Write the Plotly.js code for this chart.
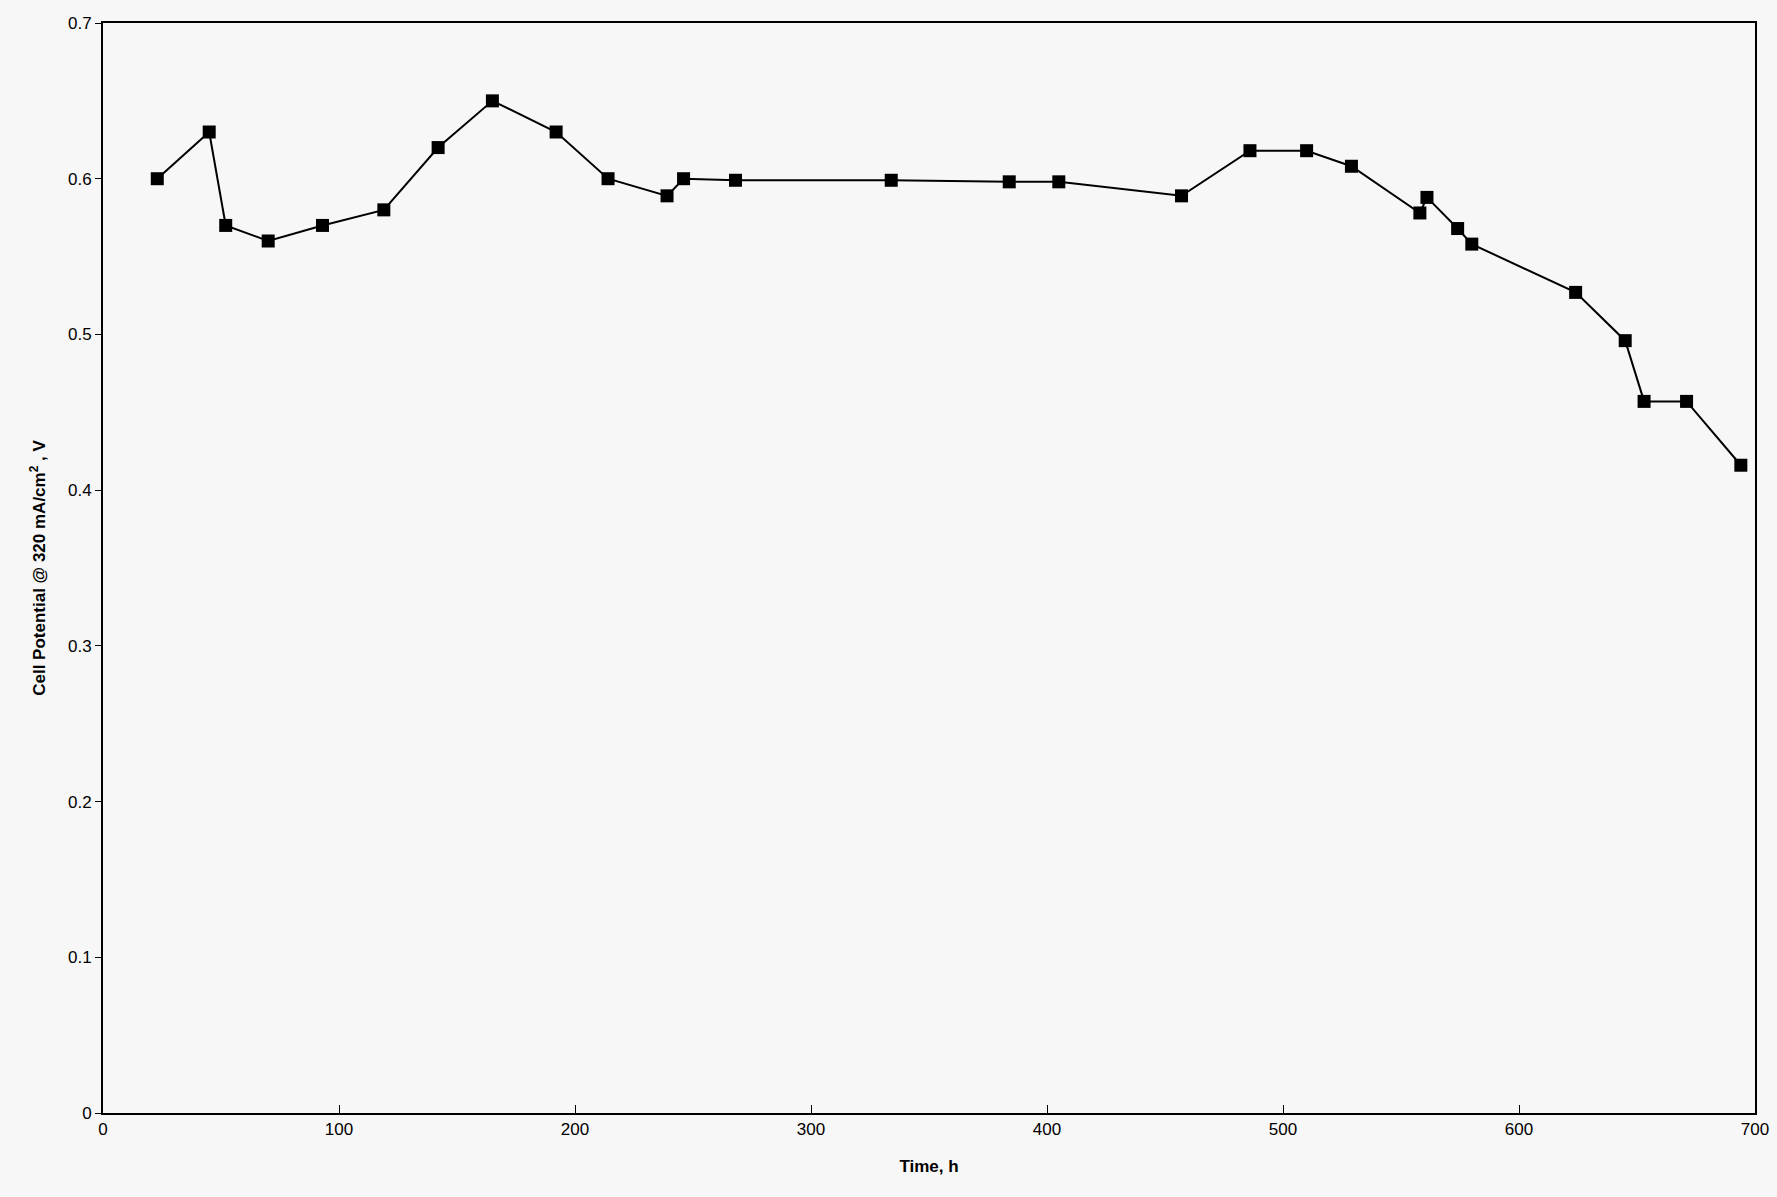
<!DOCTYPE html>
<html><head><meta charset="utf-8">
<script src="https://cdn.plot.ly/plotly-3.0.1.min.js"></script>
<style>body{margin:0;background:#f7f7f7}</style>
</head><body>
<div id="myDiv" style="width:1777px;height:1197px"></div>
<script>
var timeH = [23, 45, 52, 70, 93, 119, 142, 165, 192, 214, 239, 246, 268, 334, 384, 405, 457, 486, 510, 529, 558, 561, 574, 580, 624, 645, 653, 671, 694];
var cellV = [0.600, 0.630, 0.570, 0.560, 0.570, 0.580, 0.620, 0.650, 0.630, 0.600, 0.589, 0.600, 0.599, 0.599, 0.598, 0.598, 0.589, 0.618, 0.618, 0.608, 0.578, 0.588, 0.568, 0.558, 0.527, 0.496, 0.457, 0.457, 0.416];

var data = [{
  x: timeH, y: cellV,
  mode: 'lines+markers', type: 'scatter',
  line: {color: '#000', width: 2},
  marker: {symbol: 'square', size: 13, color: '#000'}
}];

var axisFont = {family: 'Liberation Sans, Arial', size: 17, color: '#000'};
Plotly.newPlot('myDiv', data, {
  width: 1777, height: 1197,
  margin: {l: 103, r: 22, t: 23, b: 84},
  paper_bgcolor: '#f7f7f7', plot_bgcolor: '#f7f7f7',
  showlegend: false,
  xaxis: {
    range: [0, 700], dtick: 100, showgrid: false, zeroline: false,
    showline: true, linecolor: '#000', linewidth: 2, mirror: true,
    ticks: 'inside', ticklen: 8, tickcolor: '#000', tickfont: axisFont,
    title: {text: '<b>Time, h</b>', font: axisFont, standoff: 22}
  },
  yaxis: {
    range: [0, 0.7], dtick: 0.1, showgrid: false, zeroline: false,
    showline: true, linecolor: '#000', linewidth: 2, mirror: true,
    ticks: 'outside', ticklen: 6, tickcolor: '#000', tickfont: axisFont,
    tickformat: '.1~f',
    title: {text: '<b>Cell Potential @ 320 mA/cm<sup>2</sup> , V</b>', font: axisFont, standoff: 18}
  }
}, {displayModeBar: false});
</script>
</body></html>
